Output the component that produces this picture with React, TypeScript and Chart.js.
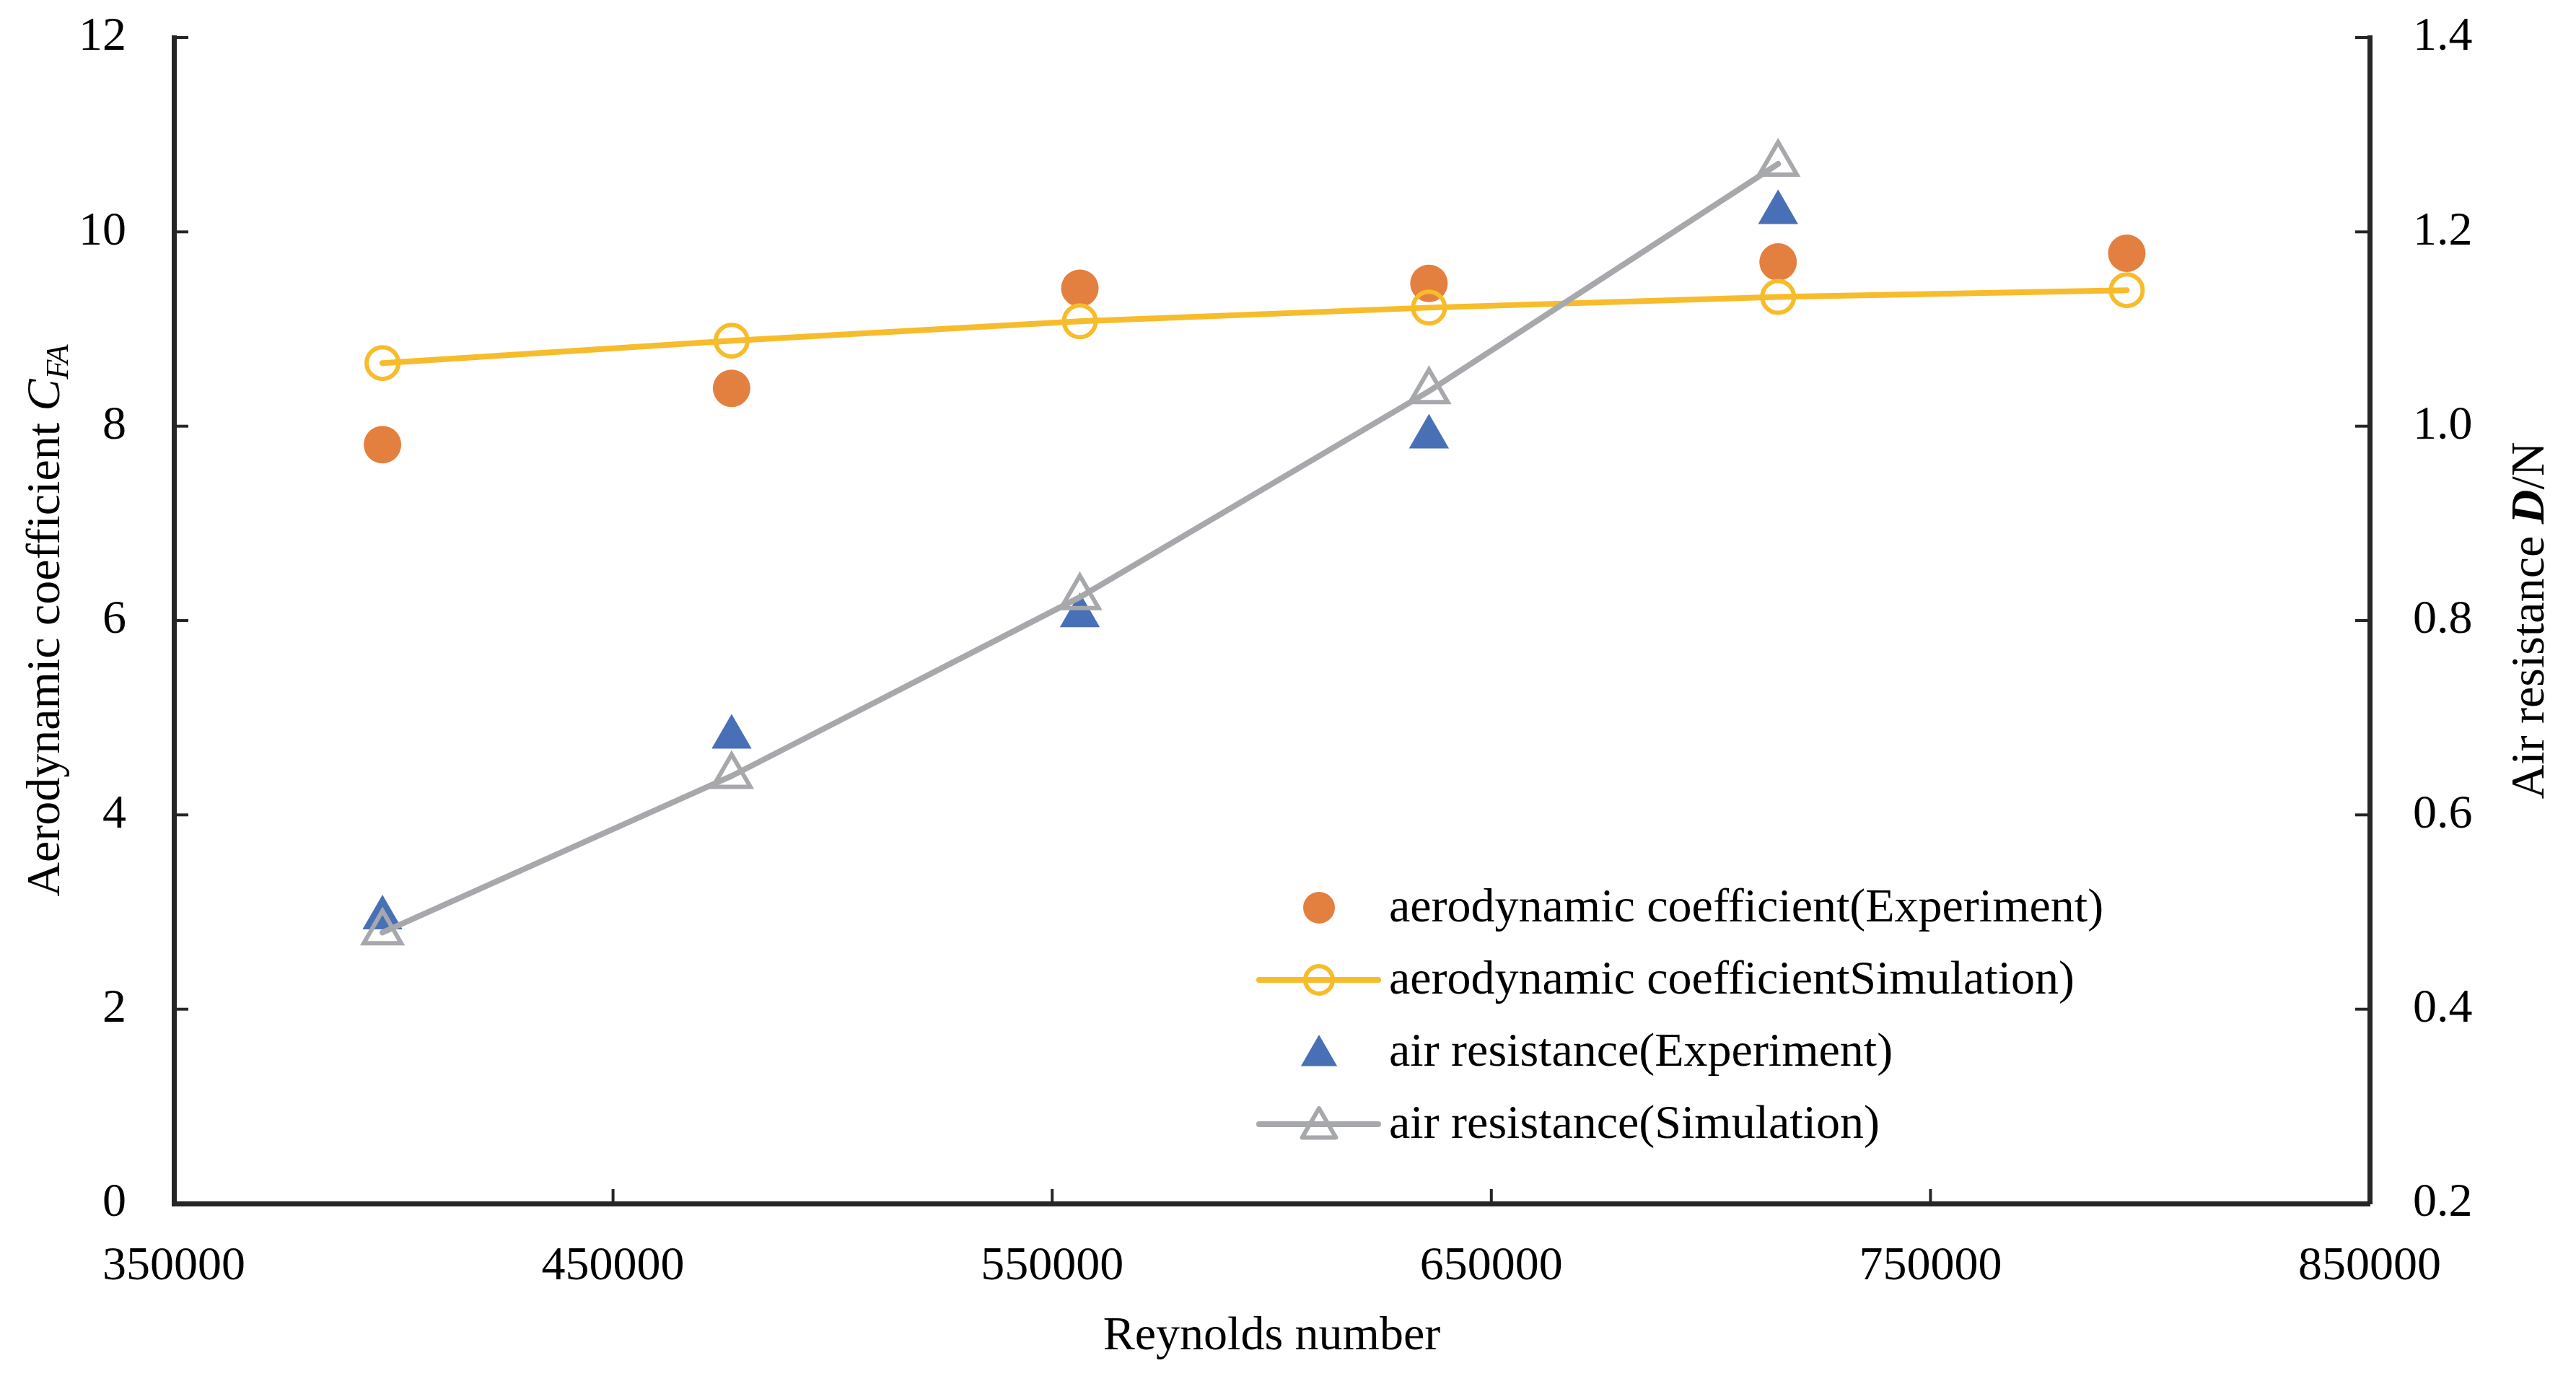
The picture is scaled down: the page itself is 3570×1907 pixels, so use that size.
import React, { useEffect, useRef } from "react";
import { Chart, registerables } from "chart.js";

Chart.register(...registerables);

// ---------- data ----------
const reynoldsNumbers = [397500, 477000, 556300, 635800, 715300, 794700];
const cfaExperiment = [7.81, 8.39, 9.42, 9.47, 9.69, 9.78];
const cfaSimulation = [8.65, 8.88, 9.08, 9.22, 9.33, 9.4];
const dragExperiment = [0.494, 0.68, 0.805, 0.989, 1.22];
const dragSimulation = [0.479, 0.64, 0.824, 1.036, 1.27];

const seriesLabels = [
  "aerodynamic coefficient(Experiment)",
  "aerodynamic coefficientSimulation)",
  "air resistance(Experiment)",
  "air resistance(Simulation)",
];

const xTitle = "Reynolds number";

// ---------- style ----------
const W = 3570;
const H = 1907;
const FONT = "'Liberation Serif', 'Times New Roman', serif";
const FS = 66;
const AXIS = "#262626";
const ORANGE = "#E4803F";
const YELLOW = "#F7BC2B";
const BLUE = "#4870B6";
const GRAY = "#A7A8AB";

const pts = (ys: number[]) => ys.map((y, i) => ({ x: reynoldsNumbers[i], y }));

const insideTicks = {
  id: "insideTicks",
  afterDraw(chart: any) {
    const ctx = chart.ctx;
    const a = chart.chartArea;
    const len = 20;
    ctx.save();
    ctx.strokeStyle = AXIS;
    ctx.lineWidth = 4;
    const xs = chart.scales.x;
    xs.ticks.forEach((t: any) => {
      const p = xs.getPixelForValue(t.value);
      ctx.beginPath();
      ctx.moveTo(p, a.bottom);
      ctx.lineTo(p, a.bottom - len);
      ctx.stroke();
    });
    const yl = chart.scales.y;
    yl.ticks.forEach((t: any) => {
      const p = yl.getPixelForValue(t.value);
      ctx.beginPath();
      ctx.moveTo(a.left, p);
      ctx.lineTo(a.left + len, p);
      ctx.stroke();
    });
    const yr = chart.scales.y1;
    yr.ticks.forEach((t: any) => {
      const p = yr.getPixelForValue(t.value);
      ctx.beginPath();
      ctx.moveTo(a.right, p);
      ctx.lineTo(a.right - len, p);
      ctx.stroke();
    });
    ctx.restore();
  },
};

type Part = { text: string; font: string; dy?: number };

function drawRich(ctx: CanvasRenderingContext2D, parts: Part[], cx: number, cy: number, rotate: boolean) {
  ctx.save();
  ctx.translate(cx, cy);
  if (rotate) ctx.rotate(-Math.PI / 2);
  ctx.textAlign = "left";
  ctx.textBaseline = "alphabetic";
  ctx.fillStyle = "#000";
  let total = 0;
  parts.forEach((p) => {
    ctx.font = p.font;
    total += ctx.measureText(p.text).width;
  });
  let x = -total / 2;
  parts.forEach((p) => {
    ctx.font = p.font;
    ctx.fillText(p.text, x, p.dy || 0);
    x += ctx.measureText(p.text).width;
  });
  ctx.restore();
}

const titles = {
  id: "titles",
  afterDraw(chart: any) {
    const ctx = chart.ctx;
    const a = chart.chartArea;
    const cy = (a.top + a.bottom) / 2;
    drawRich(
      ctx,
      [
        { text: "Aerodynamic coefficient ", font: `${FS}px ${FONT}` },
        { text: "C", font: `italic ${FS}px ${FONT}` },
        { text: "FA", font: `italic 44px ${FONT}`, dy: 12 },
      ],
      82,
      cy,
      true
    );
    drawRich(
      ctx,
      [
        { text: "Air resistance ", font: `${FS}px ${FONT}` },
        { text: "D", font: `italic bold ${FS}px ${FONT}` },
        { text: "/N", font: `${FS}px ${FONT}` },
      ],
      3525,
      cy,
      true
    );
    drawRich(ctx, [{ text: xTitle, font: `${FS}px ${FONT}` }], (a.left + a.right) / 2, 1870, false);
  },
};

function triPath(ctx: CanvasRenderingContext2D, x: number, y: number, r: number) {
  const s = Math.sin((2 * Math.PI) / 3) * r;
  ctx.beginPath();
  ctx.moveTo(x, y - r);
  ctx.lineTo(x + s, y + r * 0.5);
  ctx.lineTo(x - s, y + r * 0.5);
  ctx.closePath();
}

const customLegend = {
  id: "customLegend",
  afterDraw(chart: any) {
    const ctx = chart.ctx;
    const symX = 1828;
    const lineX0 = 1745;
    const lineX1 = 1910;
    const textX = 1925;
    const rowY0 = 1258;
    const rowStep = 100;
    ctx.save();
    ctx.lineCap = "round";
    ctx.lineJoin = "round";
    seriesLabels.forEach((label, i) => {
      const y = rowY0 + i * rowStep;
      if (i === 0) {
        ctx.fillStyle = ORANGE;
        ctx.beginPath();
        ctx.arc(symX, y, 22, 0, Math.PI * 2);
        ctx.fill();
      } else if (i === 1) {
        ctx.strokeStyle = YELLOW;
        ctx.lineWidth = 8;
        ctx.beginPath();
        ctx.moveTo(lineX0, y);
        ctx.lineTo(lineX1, y);
        ctx.stroke();
        ctx.lineWidth = 6;
        ctx.beginPath();
        ctx.arc(symX, y, 19, 0, Math.PI * 2);
        ctx.stroke();
      } else if (i === 2) {
        ctx.fillStyle = BLUE;
        triPath(ctx, symX, y + 5, 29);
        ctx.fill();
      } else {
        ctx.strokeStyle = GRAY;
        ctx.lineWidth = 8;
        ctx.beginPath();
        ctx.moveTo(lineX0, y);
        ctx.lineTo(lineX1, y);
        ctx.stroke();
        ctx.lineWidth = 6;
        triPath(ctx, symX, y + 5, 27);
        ctx.stroke();
      }
      ctx.fillStyle = "#000";
      ctx.font = `${FS}px ${FONT}`;
      ctx.textAlign = "left";
      ctx.textBaseline = "middle";
      ctx.fillText(label, textX, y + 2);
    });
    ctx.restore();
  },
};

export default function App() {
  const ref = useRef<HTMLCanvasElement | null>(null);
  useEffect(() => {
    if (!ref.current) return;
    const tickFont = { family: FONT, size: FS };
    const chart = new Chart(ref.current, {
      type: "line",
      data: {
        datasets: [
          {
            label: seriesLabels[0],
            data: pts(cfaExperiment),
            yAxisID: "y",
            showLine: false,
            pointStyle: "circle",
            pointRadius: 26,
            pointBackgroundColor: ORANGE,
            pointBorderColor: ORANGE,
            pointBorderWidth: 0,
            borderColor: ORANGE,
            backgroundColor: ORANGE,
            order: 4,
          },
          {
            label: seriesLabels[1],
            data: pts(cfaSimulation),
            yAxisID: "y",
            showLine: true,
            borderColor: YELLOW,
            borderWidth: 8,
            borderCapStyle: "round",
            tension: 0,
            pointStyle: "circle",
            pointRadius: 22,
            pointBackgroundColor: "rgba(0,0,0,0)",
            pointBorderColor: YELLOW,
            pointBorderWidth: 6,
            order: 3,
          },
          {
            label: seriesLabels[2],
            data: pts(dragExperiment),
            yAxisID: "y1",
            showLine: false,
            pointStyle: "triangle",
            pointRadius: 32,
            pointBackgroundColor: BLUE,
            pointBorderColor: BLUE,
            pointBorderWidth: 0,
            borderColor: BLUE,
            backgroundColor: BLUE,
            order: 2,
          },
          {
            label: seriesLabels[3],
            data: pts(dragSimulation),
            yAxisID: "y1",
            showLine: true,
            borderColor: GRAY,
            borderWidth: 8,
            borderCapStyle: "round",
            tension: 0,
            pointStyle: "triangle",
            pointRadius: 30,
            pointBackgroundColor: "rgba(0,0,0,0)",
            pointBorderColor: GRAY,
            pointBorderWidth: 6,
            order: 1,
          },
        ],
      },
      options: {
        responsive: false,
        animation: false,
        devicePixelRatio: 1,
        layout: { padding: { top: 52, left: 0, right: 0, bottom: 0 } },
        plugins: {
          legend: { display: false },
          tooltip: { enabled: false },
          title: { display: false },
        },
        scales: {
          x: {
            type: "linear",
            min: 350000,
            max: 850000,
            ticks: {
              stepSize: 100000,
              callback: (v: any) => String(v),
              font: tickFont,
              color: "#000",
              padding: 40,
              maxRotation: 0,
              autoSkip: false,
            },
            grid: { display: false },
            border: { display: true, color: AXIS, width: 7 },
            afterFit: (s: any) => {
              s.height = 239;
              s.paddingLeft = 0;
              s.paddingRight = 0;
            },
          },
          y: {
            type: "linear",
            position: "left",
            min: 0,
            max: 12,
            ticks: { stepSize: 2, font: tickFont, color: "#000", padding: 58 },
            grid: { display: false },
            border: { display: true, color: AXIS, width: 7 },
            afterFit: (s: any) => {
              s.width = 241;
              s.paddingTop = 0;
              s.paddingBottom = 0;
            },
          },
          y1: {
            type: "linear",
            position: "right",
            min: 0.2,
            max: 1.4,
            ticks: {
              stepSize: 0.2,
              callback: (v: any) => Number(v).toFixed(1),
              font: tickFont,
              color: "#000",
              padding: 52,
            },
            grid: { display: false },
            border: { display: true, color: AXIS, width: 7 },
            afterFit: (s: any) => {
              s.width = W - 3284;
              s.paddingTop = 0;
              s.paddingBottom = 0;
            },
          },
        },
      } as any,
      plugins: [insideTicks, titles, customLegend],
    });
    return () => chart.destroy();
  }, []);
  return (
    <div style={{ position: "fixed", left: 0, top: 0, width: W, height: H, background: "#fff" }}>
      <canvas ref={ref} width={W} height={H} style={{ width: W, height: H, display: "block" }} />
    </div>
  );
}
